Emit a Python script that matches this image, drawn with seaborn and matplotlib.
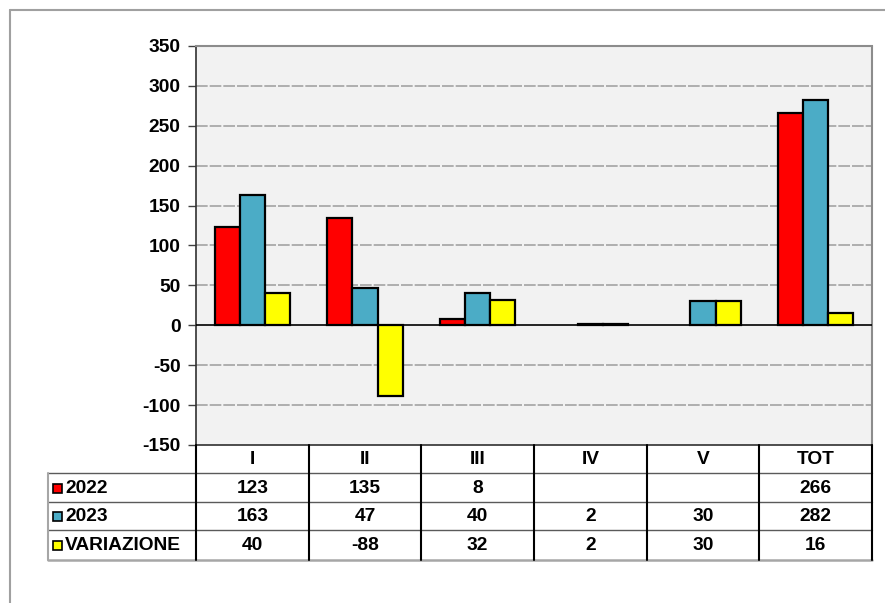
import numpy as np
import pandas as pd
import matplotlib
matplotlib.use("Agg")
import matplotlib.pyplot as plt
from matplotlib.lines import Line2D
from matplotlib.patches import Rectangle
import seaborn as sns

# Data
categories = ["I", "II", "III", "IV", "V", "TOT"]
series = ["2022", "2023", "VARIAZIONE"]
values_2022 = [123, 135, 8, None, None, 266]
values_2023 = [163, 47, 40, 2, 30, 282]
values_var = [40, -88, 32, 2, 30, 16]
colors = ["#FF0000", "#4BACC6", "#FFFF00"]
y_ticks = [-150, -100, -50, 0, 50, 100, 150, 200, 250, 300, 350]

rows = []
for name, vals in zip(series, [values_2022, values_2023, values_var]):
    for cat, v in zip(categories, vals):
        rows.append({"cat": cat, "serie": name, "val": np.nan if v is None else v})
df = pd.DataFrame(rows)

sns.set_theme(style="white")
plt.rcParams["font.family"] = ["Liberation Sans", "DejaVu Sans"]
plt.rcParams["font.weight"] = "bold"

W, H = 885, 603
fig = plt.figure(figsize=(W / 100, H / 100), dpi=100)
fig.patch.set_facecolor("white")


def fx(px):
    return px / W


def fy(py):
    return 1 - py / H


# Outer frame (only top and left edges show)
fig.add_artist(Line2D([fx(10), fx(10)], [fy(10), fy(603)], color="#a0a0a0", lw=1.5,
                      transform=fig.transFigure))
fig.add_artist(Line2D([fx(10), fx(885)], [fy(10), fy(10)], color="#a0a0a0", lw=1.5,
                      transform=fig.transFigure))

L, R, T, B = 196, 872, 46, 445
ax = fig.add_axes([fx(L), fy(B), fx(R) - fx(L), fy(T) - fy(B)])
ax.set_facecolor("#F2F2F2")

sns.barplot(data=df, x="cat", y="val", hue="serie", order=categories,
            hue_order=series, palette=colors, width=0.666, gap=0,
            edgecolor="black", linewidth=1.6, saturation=1, legend=False,
            err_kws={"linewidth": 0}, ax=ax, zorder=3)

ax.set_ylim(-150, 350)
ax.set_xlim(-0.5, len(categories) - 0.5)
ax.set_yticks(y_ticks)
ax.set_yticklabels([str(t) for t in y_ticks], fontsize=13.8, fontweight="bold")
ax.set_xticks([])
ax.set_xlabel("")
ax.set_ylabel("")
ax.tick_params(axis="y", which="both", left=True, length=6, width=1,
               color="#404040", pad=5, labelcolor="black")

for t in y_ticks[1:-1]:
    if t == 0:
        continue
    ax.axhline(t, color="#a3a3a3", lw=1.2, ls=(0, (7, 1.2)), zorder=1)
ax.axhline(0, color="black", lw=1.2, zorder=4)

for side in ["top", "right"]:
    ax.spines[side].set_color("#8c8c8c")
    ax.spines[side].set_linestyle((0, (1, 1)))
    ax.spines[side].set_linewidth(1.5)
for side in ["left", "bottom"]:
    ax.spines[side].set_color("#303030")
    ax.spines[side].set_linestyle((0, (1.5, 1)))
    ax.spines[side].set_linewidth(1.2)

# Data table below the plot
TL, TB = 48, 560
row_lines = [445, 473, 502, 530, 560]
tab = fig.add_axes([fx(TL), fy(TB), fx(R) - fx(TL), fy(B) - fy(TB)])
col_px = (R - L) / len(categories)
label_w = (L - TL) / col_px
tab.set_xlim(-0.5 - label_w, len(categories) - 0.5)
tab.set_ylim(TB, B)
tab.axis("off")

# horizontal grid of the table
for yy in row_lines[1:-1]:
    tab.plot([-0.5 - label_w, len(categories) - 0.5], [yy, yy], color="#5a5a5a",
             lw=1, clip_on=False)
tab.plot([-0.5 - label_w, len(categories) - 0.5], [TB, TB], color="#a6a6a6",
         lw=1.8, clip_on=False)
tab.plot([-0.5 - label_w, -0.5 - label_w], [row_lines[1], TB], color="#a6a6a6",
         lw=1.5, clip_on=False)
# vertical column separators
for i in range(len(categories) + 1):
    tab.plot([i - 0.5, i - 0.5], [B, TB], color="black", lw=1.5, clip_on=False)

txt_kw = dict(fontsize=13.8, fontweight="bold", color="black", va="center", ha="center")
for i, cat in enumerate(categories):
    tab.text(i, (row_lines[0] + row_lines[1]) / 2 + 1, cat, **txt_kw)

for r, (name, vals, col) in enumerate(zip(series, [values_2022, values_2023, values_var], colors)):
    yc = (row_lines[r + 1] + row_lines[r + 2]) / 2 + 1
    for i, v in enumerate(vals):
        if v is not None:
            tab.text(i, yc, str(v), **txt_kw)
    # legend key
    kx = -0.5 - label_w + 5 / col_px
    kw = 9 / col_px
    tab.add_patch(Rectangle((kx, yc - 4.5), kw, 9, facecolor=col, edgecolor="black",
                            lw=1.2, clip_on=False))
    tab.text(kx + kw + 3 / col_px, yc, name, fontsize=13.8,
             fontweight="bold", color="black", va="center", ha="left")

fig.savefig("out.png", dpi=100, facecolor="white")
